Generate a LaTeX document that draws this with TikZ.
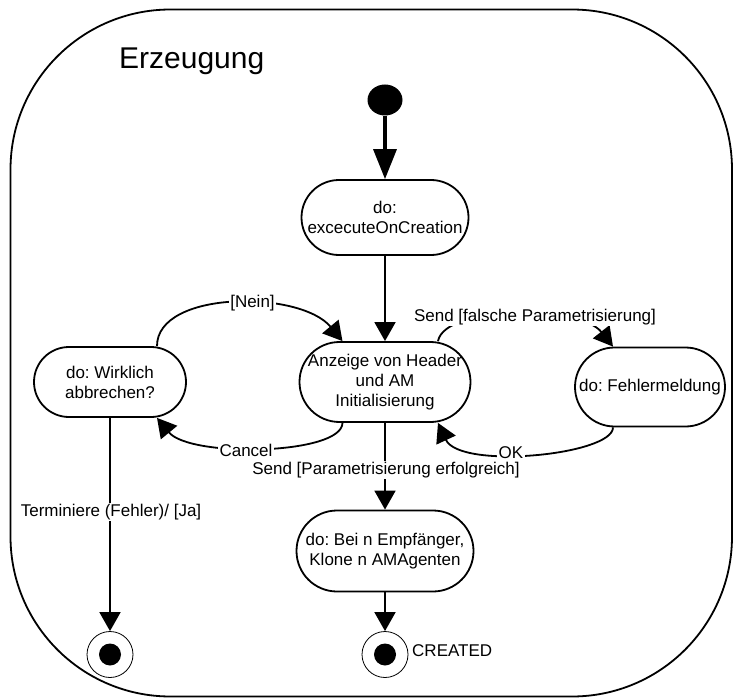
\documentclass[tikz,border=0pt]{standalone}
\usepackage{fontspec}
\setmainfont{Liberation Sans}
\usetikzlibrary{arrows.meta,shapes.geometric}
\newcommand\lblfont{\fontsize{17}{20}\selectfont}
\frenchspacing
\begin{document}
\begin{tikzpicture}[x=1pt,y=-1pt,
  every node/.style={inner sep=0pt},
  lbl/.style={font=\lblfont},
  tag/.style={font=\lblfont, fill=white, inner sep=1.5pt},
  state/.style={draw, line width=1.8pt, align=center, font=\lblfont, rounded corners=#1},
  trans/.style={line width=1.8pt, -{Triangle[width=21pt,length=19pt]}},
  final/.style={circle, draw, line width=0.8pt, minimum size=46pt},
  dot/.style={circle, fill, minimum size=22pt},
]
\useasboundingbox (0,0) rectangle (734,698);

% enclosing composite state
\draw[line width=1.8pt, rounded corners=160pt] (10.5,9.5) rectangle (732,696.5);
\node[anchor=base west, font=\fontsize{30}{36}\selectfont] (title) at (119,68.3) {Erzeugung};

% states
\node[ellipse, fill, minimum width=35pt, minimum height=31pt] (init) at (385,100) {};
\node[state=37.5pt, minimum width=167pt, minimum height=75pt] (exec) at (385,217.5) {do:\\excecuteOnCreation};
\node[state=40pt, minimum width=171pt, minimum height=80pt] (anz) at (385,382) {Anzeige von Header\\und AM\\Initialisierung};
\node[state=35pt, minimum width=152pt, minimum height=70pt] (wirk) at (110,382) {do: Wirklich\\abbrechen?};
\node[state=39.5pt, minimum width=150pt, minimum height=79pt] (fehl) at (650,387) {do: Fehlermeldung};
\node[state=40.5pt, minimum width=177pt, minimum height=81pt] (klon) at (385,551) {do: Bei n Empfänger,\\Klone n AMAgenten};

\node[final] (endL) at (110,654.5) {};
\node[dot] (endLdot) at (endL) {};
\node[final] (endR) at (385,654.5) {};
\node[dot] (endRdot) at (endR) {};
\node[lbl, anchor=west] (created) at (412,651) {CREATED};

% transitions
\draw[line width=3.5pt, -{Triangle[width=23pt,length=30pt]}] (init) -- (exec);
\draw[trans] (exec) -- (anz);
\draw[trans] (anz) -- (klon);
\draw[trans] (klon) -- (endR);
\draw[trans] (wirk) -- (endL);

\draw[trans] ([xshift=47pt]wirk.north) .. controls (157,290) and (300,290) .. ([xshift=-42.5pt]anz.north);
\draw[trans] ([xshift=-42.5pt]anz.south) .. controls (342,455) and (190,458) .. ([xshift=47pt]wirk.south);
\draw[trans] ([xshift=53pt]anz.north) .. controls (445,305) and (580,305) .. ([xshift=-37pt]fehl.north);
\draw[trans] ([xshift=-37pt]fehl.south) .. controls (613,455) and (460,470) .. ([xshift=53pt]anz.south);

% transition labels
\node[tag] (nein) at (252.5,303) {[Nein]};
\node[tag] (cancel) at (246,450) {Cancel};
\node[tag] (falsch) at (535,317) {Send [falsche Parametrisierung]};
\node[tag] (okl) at (511,453) {OK};
\node[tag] (sendok) at (386,470) {Send [Parametrisierung erfolgreich]};
\node[tag] (term) at (111,512) {Terminiere (Fehler)/ [Ja]};
\end{tikzpicture}
\end{document}
